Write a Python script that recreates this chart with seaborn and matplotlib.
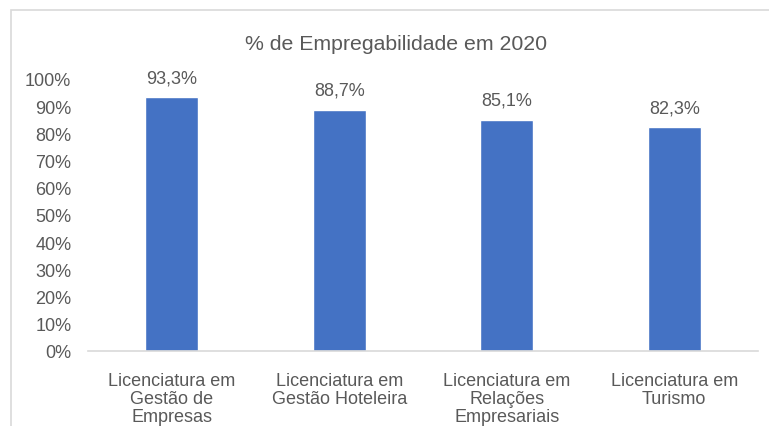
import matplotlib
matplotlib.use("Agg")
import matplotlib.pyplot as plt
import seaborn as sns
import pandas as pd
from matplotlib.ticker import PercentFormatter, MultipleLocator
from matplotlib.patches import Rectangle

categories = ["Licenciatura em\nGestão de\nEmpresas",
              "Licenciatura em\nGestão Hoteleira",
              "Licenciatura em\nRelações\nEmpresariais",
              "Licenciatura em\nTurismo"]
values = [0.933, 0.887, 0.851, 0.823]
title = "% de Empregabilidade em 2020"

sns.set_theme(style="white")
plt.rcParams['font.family'] = ['Liberation Sans', 'DejaVu Sans']
text_color = "#595959"

fig = plt.figure(figsize=(7.69, 4.27), dpi=100)
W, H = 769, 427
ax = fig.add_axes([88 / W, (H - 352) / H, (758 - 88) / W, (352 - 80) / H])

df = pd.DataFrame({"cat": categories, "val": values})
sns.barplot(data=df, x="cat", y="val", color="#4472C4", width=0.316,
            saturation=1, ax=ax)

ax.set_ylim(0, 1)
ax.yaxis.set_major_locator(MultipleLocator(0.1))
ax.yaxis.set_major_formatter(PercentFormatter(1.0, decimals=0))
ax.set_xlabel("")
ax.set_ylabel("")
for s in ["top", "right", "left"]:
    ax.spines[s].set_visible(False)
ax.spines["bottom"].set_color("#D9D9D9")
ax.spines["bottom"].set_linewidth(1.2)
ax.tick_params(axis="y", length=0, pad=12, labelsize=13, labelcolor=text_color)
ax.tick_params(axis="x", length=0, pad=15, labelsize=13, labelcolor=text_color)
for lbl in ax.get_xticklabels():
    lbl.set_linespacing(1.08)

labels = [f"{v * 100:.1f}%".replace(".", ",") for v in values]
ax.bar_label(ax.containers[0], labels=labels, padding=8, fontsize=13,
             color=text_color)

fig.text(396 / W, (H - 45) / H, title, ha="center", va="center",
         fontsize=15.3, color=text_color)

fig.patches.append(Rectangle((11 / W, -0.1), 1.2, (H - 11) / H + 0.1,
                             transform=fig.transFigure, fill=False,
                             edgecolor="#D9D9D9", linewidth=1.2))

fig.savefig("out.png", dpi=100)
